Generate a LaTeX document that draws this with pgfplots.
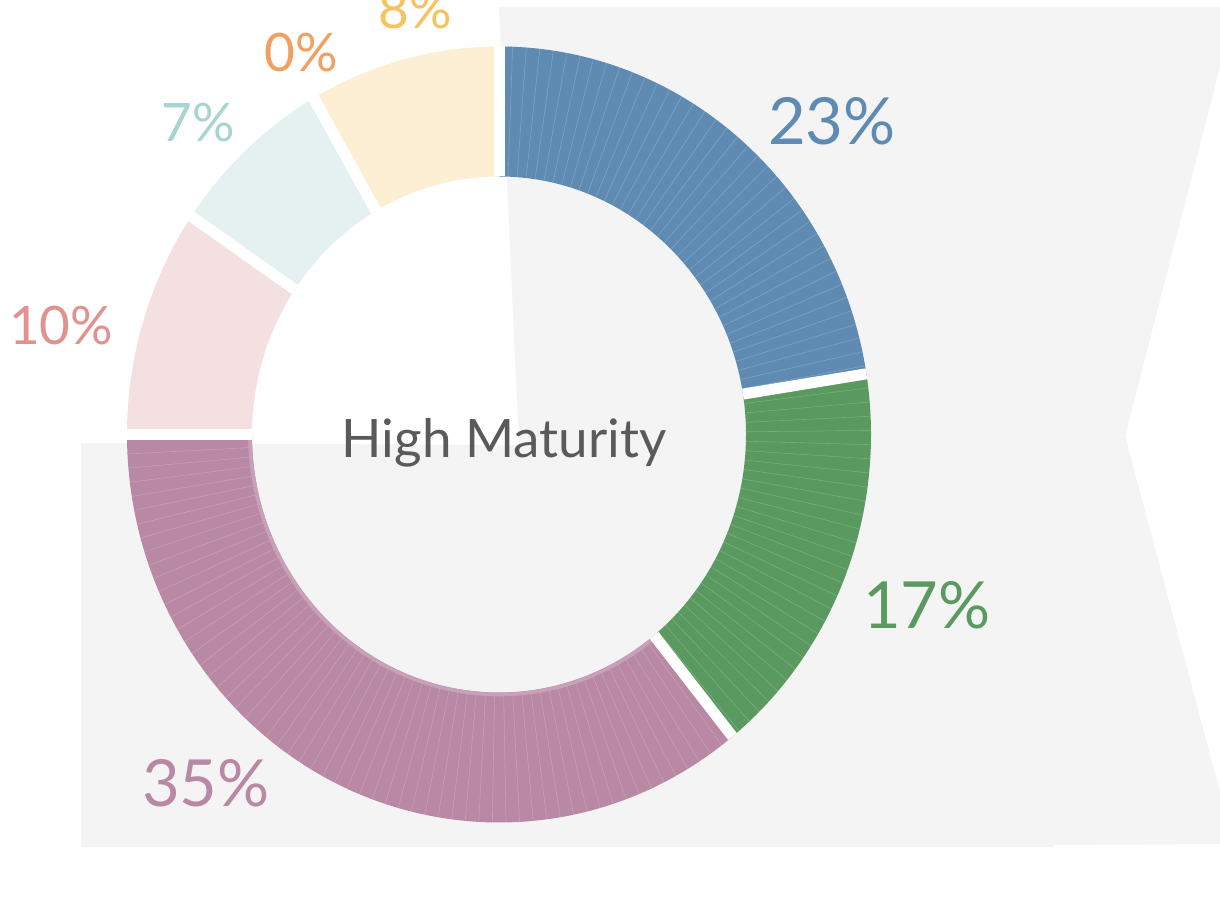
\documentclass[border=0pt]{standalone}
\usepackage{fontspec}
\setmainfont{Lato}
\usepackage{pgfplots}
\usepackage{pgfplotstable}
\pgfplotsset{compat=1.18}

\definecolor{cblue}{HTML}{5F8BB3}
\definecolor{cgreen}{HTML}{5A9A60}
\definecolor{cpurple}{HTML}{B888A5}
\definecolor{cpurplelt}{HTML}{C8A1B9}
\definecolor{cpink}{HTML}{F5E0E1}
\definecolor{cteal}{HTML}{E4F1F0}
\definecolor{corange}{HTML}{FBE3CF}
\definecolor{cyellow}{HTML}{FCEFD4}
\definecolor{lblue}{HTML}{5F8BB3}
\definecolor{lgreen}{HTML}{5A9A60}
\definecolor{lpurple}{HTML}{B888A5}
\definecolor{lpink}{HTML}{E09290}
\definecolor{lteal}{HTML}{A8D5D0}
\definecolor{lorange}{HTML}{F0A060}
\definecolor{lyellow}{HTML}{F6C35E}
\definecolor{bggray}{HTML}{F4F4F4}
\definecolor{txtgray}{HTML}{5A5A5A}

% segment values (%, clockwise from the top), label position in image pixels
\pgfplotstableread{
name   value pct seg     lab     tex lx  ly  big
Blue   22.5  23  cblue   lblue   1   832 121 1
Green  16.7  17  cgreen  lgreen  1   927 605 1
Purple 35.8  35  cpurple lpurple 1   206 783 1
Pink   9.5   10  cpink   lpink   0   61  326 0
Teal   7.2   7   cteal   lteal   0   198 123 0
Orange 0.0   0   corange lorange 0   301 53  0
Yellow 8.3   8   cyellow lyellow 0   415 10  0
}\donut

\def\cx{499}\def\cy{480.5}
\def\Rox{372}\def\Roy{388}\def\Rix{247}\def\Riy{258}

\xdef\cumsum{0}
\pgfplotsforeachungrouped \i in {0,...,6}{%
  \pgfplotstablegetelem{\i}{value}\of\donut\let\dval\pgfplotsretval
  \pgfmathsetmacro\dS{90-3.6*\cumsum}%
  \pgfmathsetmacro\cumnew{\cumsum+\dval}%
  \pgfmathsetmacro\dE{90-3.6*\cumnew}%
  \expandafter\xdef\csname aS\i\endcsname{\dS}%
  \expandafter\xdef\csname aE\i\endcsname{\dE}%
  \xdef\cumsum{\cumnew}%
}

\begin{document}
\begin{tikzpicture}
\begin{axis}[
  x=0.5pt, y=0.5pt,
  xmin=0, xmax=1220, ymin=0, ymax=915,
  enlargelimits=false,
  hide axis,
  clip=false,
]
\coordinate (BL) at (axis cs:0,0);
\coordinate (TR) at (axis cs:1220,915);
\pgfplotsextra{
  % white page
  \fill[white] (axis cs:0,0) rectangle (axis cs:1220,915);
  % grey background shape
  \fill[bggray] (axis cs:499,908) -- (axis cs:1220,908) -- (axis cs:1220,848)
     -- (axis cs:1125,479) -- (axis cs:1220,123) -- (axis cs:1220,71)
     -- (axis cs:1054,70) -- (axis cs:1054,68) -- (axis cs:81,68)
     -- (axis cs:81,472) -- (axis cs:519,470) -- cycle;
  % wedges
  \foreach \i in {0,...,6}{
    \pgfplotstablegetelem{\i}{seg}\of\donut\let\segc\pgfplotsretval
    \edef\dS{\csname aS\i\endcsname}\edef\dE{\csname aE\i\endcsname}
    \pgfmathsetmacro\xa{\cx+\Rox*cos(\dS)}\pgfmathsetmacro\ya{\cy+\Roy*sin(\dS)}
    \pgfmathsetmacro\xb{\cx+\Rix*cos(\dE)}\pgfmathsetmacro\yb{\cy+\Riy*sin(\dE)}
    \fill[fill=\segc] (axis cs:\xa,\ya)
      arc[start angle=\dS, end angle=\dE, x radius=186pt, y radius=194pt]
      -- (axis cs:\xb,\yb)
      arc[start angle=\dE, end angle=\dS, x radius=123.5pt, y radius=129pt]
      -- cycle;
    % faint radial seams in the dark segments
    \pgfplotstablegetelem{\i}{tex}\of\donut\let\dtex\pgfplotsretval
    \ifnum\dtex=1
      \pgfmathtruncatemacro\nl{(\dS-\dE)/2.1}
      \foreach \k in {1,...,\nl}{
        \pgfmathsetmacro\tt{\dS-2.1*\k}
        \pgfmathsetmacro\xo{\cx+\Rox*cos(\tt)}\pgfmathsetmacro\yo{\cy+\Roy*sin(\tt)}
        \pgfmathsetmacro\xi{\cx+\Rix*cos(\tt)}\pgfmathsetmacro\yi{\cy+\Riy*sin(\tt)}
        \draw[white, opacity=0.2, line width=0.3pt] (axis cs:\xi,\yi) -- (axis cs:\xo,\yo);
      }
    \fi
  }
  % lighter inner rim of the purple segment
  \pgfmathsetmacro\xr{\cx+(\Rix+2)*cos(\csname aS2\endcsname)}
  \pgfmathsetmacro\yr{\cy+(\Riy+2)*sin(\csname aS2\endcsname)}
  \draw[cpurplelt, line width=1.8pt] (axis cs:\xr,\yr)
     arc[start angle=\csname aS2\endcsname, end angle=\csname aE2\endcsname, x radius=124.5pt, y radius=130pt];
  % white gaps between segments
  \foreach \i in {0,...,6}{
    \edef\dS{\csname aS\i\endcsname}
    \pgfmathsetmacro\xa{\cx+\Rox*cos(\dS)}\pgfmathsetmacro\ya{\cy+\Roy*sin(\dS)}
    \pgfmathsetmacro\xb{\cx+\Rix*cos(\dS)}\pgfmathsetmacro\yb{\cy+\Riy*sin(\dS)}
    \draw[white, line width=5.5pt] (axis cs:\xb,\yb) -- (axis cs:\xa,\ya);
  }
  % percentage labels
  \foreach \i in {0,...,6}{
    \pgfplotstablegetelem{\i}{pct}\of\donut\let\dpct\pgfplotsretval
    \pgfplotstablegetelem{\i}{lab}\of\donut\let\dlab\pgfplotsretval
    \pgfplotstablegetelem{\i}{lx}\of\donut\let\dlx\pgfplotsretval
    \pgfplotstablegetelem{\i}{ly}\of\donut\let\dly\pgfplotsretval
    \pgfplotstablegetelem{\i}{big}\of\donut\let\dbig\pgfplotsretval
    \pgfmathsetmacro\dY{915-\dly}
    \ifnum\dbig=1
      \node[text=\dlab, inner sep=0pt, font=\fontsize{32.5}{39}\selectfont] at (axis cs:\dlx,\dY) {\dpct\%};
    \else
      \node[text=\dlab, inner sep=0pt, font=\fontsize{26.5}{32}\selectfont] at (axis cs:\dlx,\dY) {\dpct\%};
    \fi
  }
  % centre title
  \node[text=txtgray, anchor=base, inner sep=0pt, font=\fontsize{26.5}{32}\selectfont] at (axis cs:504,457) {High Maturity};
}
\end{axis}
\pgfresetboundingbox
\path[use as bounding box] (BL) rectangle (TR);
\end{tikzpicture}
\end{document}
